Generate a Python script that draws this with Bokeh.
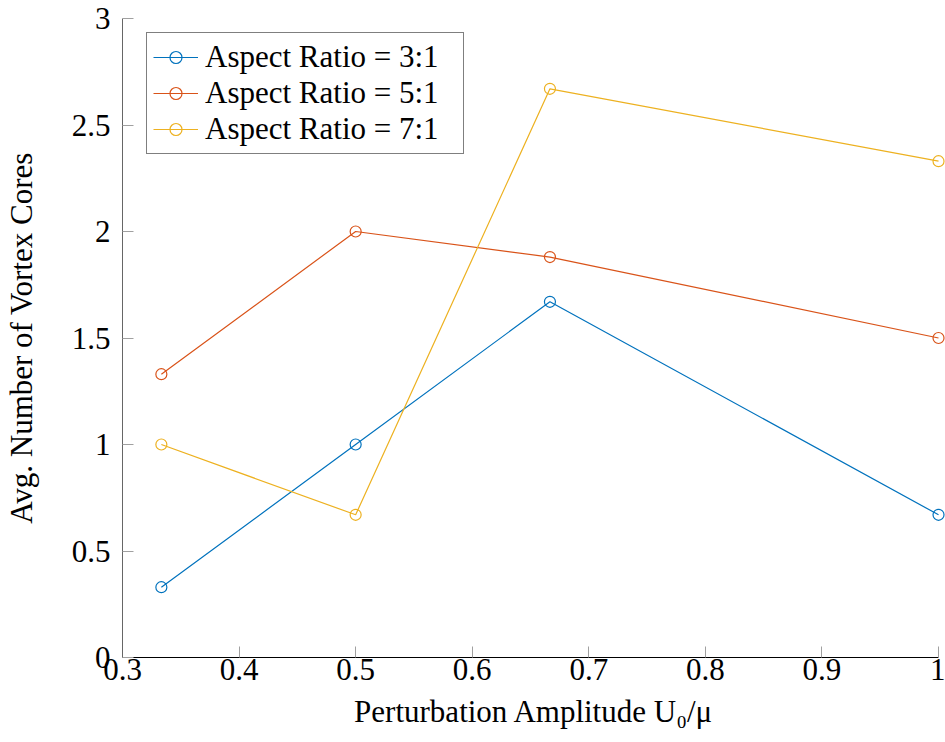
from bokeh.plotting import figure
from bokeh.models import Range1d, FixedTicker, CustomJSTickFormatter, Legend, LegendItem
from bokeh.embed import file_html
from bokeh.resources import INLINE

# ---- data ----
x_vals = [1/3, 0.5, 2/3, 1.0]
ar3 = [0.33, 1.0, 1.67, 0.67]
ar5 = [1.33, 2.0, 1.88, 1.5]
ar7 = [1.0, 0.67, 2.67, 2.33]
series_names = ["Aspect Ratio = 3:1", "Aspect Ratio = 5:1", "Aspect Ratio = 7:1"]
series_colors = ["#0072BD", "#D95319", "#EDB120"]
x_ticks = [0.3, 0.4, 0.5, 0.6, 0.7, 0.8, 0.9, 1.0]
y_ticks = [0, 0.5, 1, 1.5, 2, 2.5, 3]

FONT = "Liberation Serif"
FS = "31px"

W, H = 945, 742
left_b = 120
top_b = 18
bottom_b = 85
frame_w = W - left_b
x_end = 0.3 + 0.7 * frame_w / 818.0

p = figure(width=W, height=H, output_backend="svg", toolbar_location=None,
           x_range=Range1d(0.3, x_end), y_range=Range1d(0, 3),
           min_border_left=left_b, min_border_right=0, min_border_top=top_b,
           min_border_bottom=bottom_b)
p.outline_line_color = None
p.grid.visible = False
p.background_fill_color = "white"
p.border_fill_color = "white"

renderers = []
for ys, name, col in zip([ar3, ar5, ar7], series_names, series_colors):
    l = p.line(x_vals, ys, line_color=col, line_width=1.2)
    c = p.scatter(x_vals, ys, marker="circle", size=11, fill_color=None,
                  line_color=col, line_width=1.2)
    renderers.append([l, c])

fmt = CustomJSTickFormatter(code="""
let s = tick.toFixed(1);
if (s.endsWith('.0')) s = s.slice(0, -2);
return s;
""")

for ax, ticks in ((p.xaxis[0], x_ticks), (p.yaxis[0], y_ticks)):
    ax.ticker = FixedTicker(ticks=ticks)
    ax.formatter = fmt
    ax.major_tick_in = 11
    ax.major_tick_out = 0
    ax.minor_tick_in = 0
    ax.minor_tick_out = 0
    ax.major_tick_line_color = "#a0a0a0"
    ax.major_label_text_font = FONT
    ax.major_label_text_font_size = FS
    ax.major_label_text_color = "black"
    ax.axis_label_text_font = FONT
    ax.axis_label_text_font_size = FS
    ax.axis_label_text_font_style = "normal"
    ax.axis_label_text_color = "black"

p.xaxis[0].bounds = (0.3, 1.0)
p.xaxis[0].axis_line_color = "black"
p.xaxis[0].major_label_standoff = 1
p.xaxis[0].axis_label = "Perturbation Amplitude U\u2080/\u03bc"
p.xaxis[0].axis_label_standoff = 11

p.yaxis[0].axis_line_color = "#666666"
p.yaxis[0].major_label_standoff = 12
p.yaxis[0].axis_label = "Avg. Number of Vortex Cores"
p.yaxis[0].axis_label_standoff = 30

legend = Legend(items=[LegendItem(label=n, renderers=r) for n, r in zip(series_names, renderers)],
                location=(24, 503))
legend.label_text_font = FONT
legend.label_text_font_size = FS
legend.label_text_color = "black"
legend.border_line_color = "black"
legend.border_line_width = 1
legend.background_fill_alpha = 1
legend.glyph_width = 45
legend.glyph_height = 30
legend.label_height = 30
legend.label_width = 252
legend.label_standoff = 7
legend.spacing = 0
legend.padding = 6
legend.margin = 0
p.add_layout(legend, "center")

open("out.html", "w").write(file_html(p, INLINE))
